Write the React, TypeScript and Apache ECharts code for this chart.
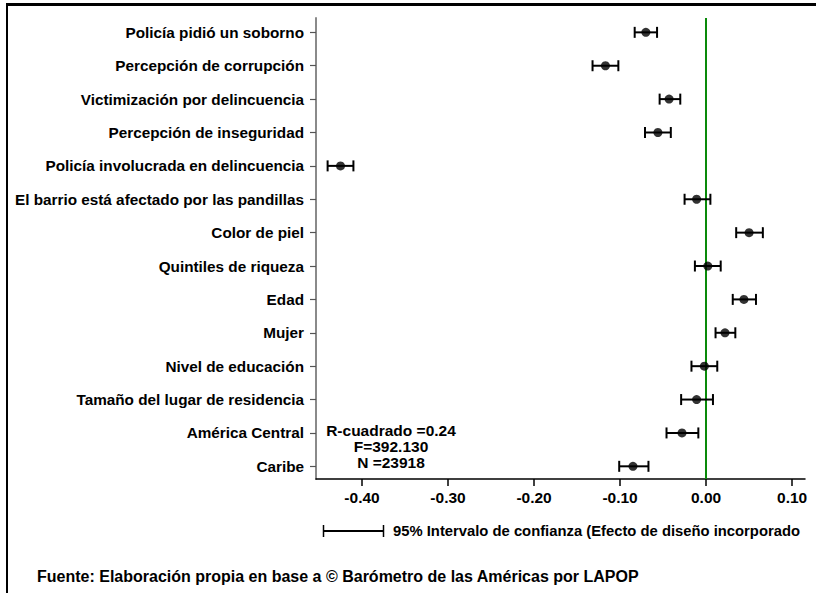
import React, { useEffect, useRef } from "react";
import * as echarts from "echarts";

const categories = [
  "Policía pidió un soborno",
  "Percepción de corrupción",
  "Victimización por delincuencia",
  "Percepción de inseguridad",
  "Policía involucrada en delincuencia",
  "El barrio está afectado por las pandillas",
  "Color de piel",
  "Quintiles de riqueza",
  "Edad",
  "Mujer",
  "Nivel de educación",
  "Tamaño del lugar de residencia",
  "América Central",
  "Caribe",
];
const estimates = [-0.070, -0.117, -0.043, -0.056, -0.425, -0.011, 0.050, 0.002, 0.044, 0.022, -0.002, -0.011, -0.028, -0.085];
const lower = [-0.083, -0.132, -0.054, -0.071, -0.440, -0.025, 0.035, -0.013, 0.031, 0.011, -0.017, -0.029, -0.046, -0.101];
const upper = [-0.057, -0.102, -0.030, -0.041, -0.410, 0.005, 0.066, 0.017, 0.058, 0.034, 0.013, 0.008, -0.009, -0.067];
const xTicks = [-0.4, -0.3, -0.2, -0.1, 0.0, 0.1];
const statsLines = ["R-cuadrado =0.24", "F=392.130", "N =23918"];
const legendText = "95% Intervalo de confianza (Efecto de diseño incorporado";
const sourceText = "Fuente: Elaboración propia en base a © Barómetro de las Américas por LAPOP";

const FONT = "'Liberation Sans', Arial, sans-serif";

export default function App() {
  const ref = useRef<HTMLDivElement>(null);
  useEffect(() => {
    document.body.style.margin = "0";
    if (!ref.current) return;
    const chart = echarts.init(ref.current, null, { renderer: "svg" });
    const idx = categories.map((_, i) => i);
    const barData = idx.map((i) => [lower[i], upper[i], i]);
    const pointData = idx.map((i) => [estimates[i], i]);
    const textStyle = { fontFamily: FONT, fontWeight: "bold" as const, fontSize: 15.5, fill: "#000" };
    chart.setOption({
      animation: false,
      backgroundColor: "#fff",
      grid: { left: 316, top: 18, right: 11, bottom: 114, containLabel: false },
      xAxis: {
        type: "value",
        min: -0.4535,
        max: 0.115,
        splitLine: { show: false },
        axisLine: { show: true, onZero: false, lineStyle: { color: "#000", width: 1.5 } },
        axisTick: { show: true, length: 7, customValues: xTicks, lineStyle: { color: "#000", width: 1.5 } },
        axisLabel: {
          customValues: xTicks,
          formatter: (v: number) => v.toFixed(2),
          color: "#000",
          fontFamily: FONT,
          fontWeight: "bold",
          fontSize: 15.5,
          margin: 10,
        },
      },
      yAxis: {
        type: "value",
        inverse: true,
        min: -0.43,
        max: 13.38,
        splitLine: { show: false },
        axisLine: { show: true, onZero: false, lineStyle: { color: "#8a8a8a", width: 2 } },
        axisTick: { show: true, length: 6, customValues: idx, lineStyle: { color: "#555", width: 1.2 } },
        axisLabel: {
          customValues: idx,
          formatter: (v: number) => categories[Math.round(v)] ?? "",
          color: "#000",
          fontFamily: FONT,
          fontWeight: "bold",
          fontSize: 15.3,
          margin: 12,
        },
      },
      series: [
        {
          type: "custom",
          data: barData,
          renderItem: (params: any, api: any) => {
            const p1 = api.coord([api.value(0), api.value(2)]);
            const p2 = api.coord([api.value(1), api.value(2)]);
            const h = 5.5;
            const style = { stroke: "#000", lineWidth: 2 };
            return {
              type: "group",
              children: [
                { type: "line", shape: { x1: p1[0], y1: p1[1], x2: p2[0], y2: p2[1] }, style },
                { type: "line", shape: { x1: p1[0], y1: p1[1] - h, x2: p1[0], y2: p1[1] + h }, style },
                { type: "line", shape: { x1: p2[0], y1: p2[1] - h, x2: p2[0], y2: p2[1] + h }, style },
              ],
            };
          },
          z: 3,
        },
        {
          type: "scatter",
          data: pointData,
          symbol: "circle",
          symbolSize: 9,
          itemStyle: { color: "#000" },
          z: 4,
          markLine: {
            silent: true,
            symbol: ["none", "none"],
            label: { show: false },
            lineStyle: { color: "#0a8a0a", width: 2, type: "solid" },
            data: [{ xAxis: 0 }],
            z: 2,
          },
        },
      ],
      graphic: [
        { type: "line", shape: { x1: 6, y1: 4.5, x2: 816, y2: 4.5 }, style: { stroke: "#000", lineWidth: 3 } },
        { type: "line", shape: { x1: 7, y1: 3, x2: 7, y2: 593 }, style: { stroke: "#000", lineWidth: 2 } },
        ...statsLines.map((t, i) => ({
          type: "text",
          x: 391,
          y: 430 + i * 16,
          style: { ...textStyle, text: t, textAlign: "center", textVerticalAlign: "middle" },
        })),
        { type: "line", shape: { x1: 323, y1: 531, x2: 384, y2: 531 }, style: { stroke: "#000", lineWidth: 2 } },
        { type: "line", shape: { x1: 323.5, y1: 525, x2: 323.5, y2: 537 }, style: { stroke: "#000", lineWidth: 1.5 } },
        { type: "line", shape: { x1: 383.5, y1: 525, x2: 383.5, y2: 537 }, style: { stroke: "#000", lineWidth: 1.5 } },
        {
          type: "text",
          x: 393,
          y: 531,
          style: { ...textStyle, fontSize: 14.8, text: legendText, textAlign: "left", textVerticalAlign: "middle" },
        },
        {
          type: "text",
          x: 37,
          y: 576,
          style: { ...textStyle, fontSize: 16, text: sourceText, textAlign: "left", textVerticalAlign: "middle" },
        },
      ],
    });
    return () => chart.dispose();
  }, []);
  return <div ref={ref} style={{ position: "fixed", left: 0, top: 0, width: 816, height: 593 }} />;
}
